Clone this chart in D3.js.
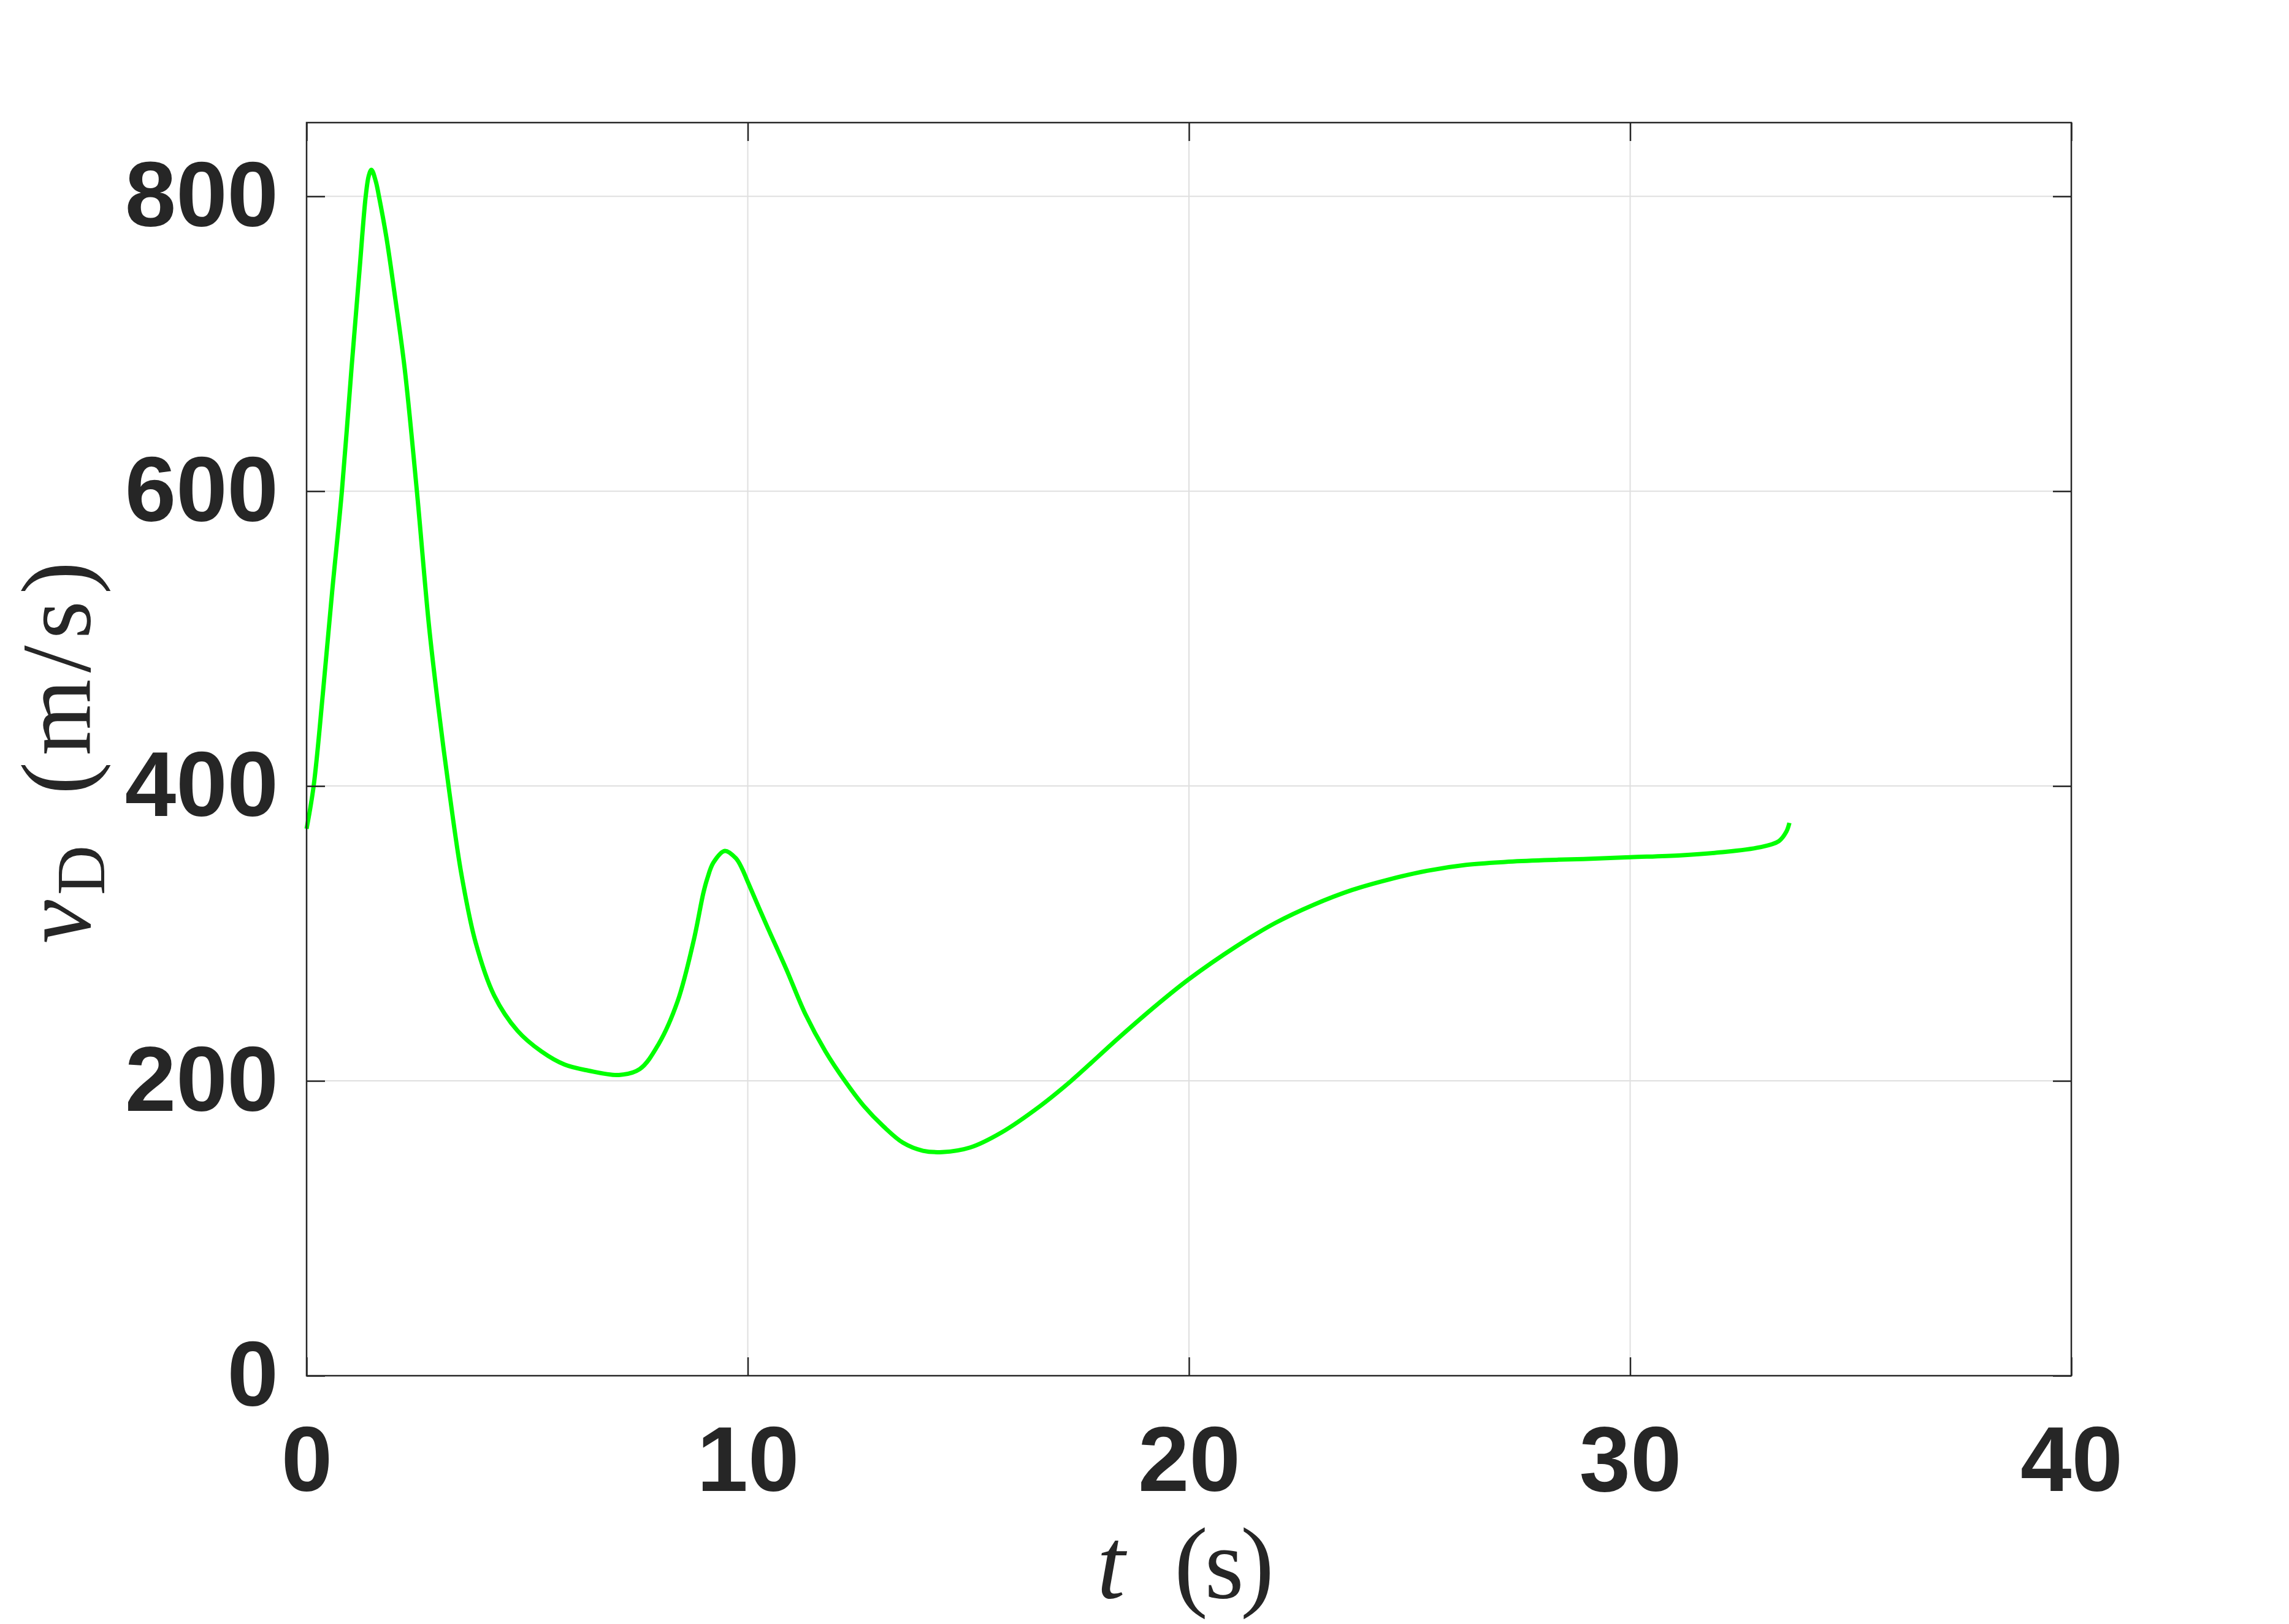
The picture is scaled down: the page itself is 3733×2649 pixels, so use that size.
<!DOCTYPE html>
<html>
<head>
<meta charset="utf-8">
<script src="https://cdn.jsdelivr.net/npm/d3@7"></script>
<style>
  html, body { margin: 0; padding: 0; background: #ffffff; }
  svg { display: block; }
</style>
</head>
<body>
<div id="chart"></div>
<script>
// ---- data ----
const timeS = [0, 0.16, 0.37, 0.58, 0.80, 1.02, 1.20, 1.34, 1.41, 1.47, 1.57, 1.64, 1.81, 1.99, 2.22,
  2.50, 2.77, 2.98, 3.24, 3.51, 3.83, 4.25, 4.78, 5.32, 5.85, 6.38, 7.08, 7.55, 7.98, 8.41, 8.78, 8.99,
  9.08, 9.22, 9.48, 9.73, 9.87, 10.0, 10.42, 10.87, 11.31, 11.76, 12.20, 12.63, 13.08, 13.52, 13.97,
  14.41, 15.04, 15.75, 16.63, 17.33, 18.40, 19.29, 20.0, 21.06, 21.95, 22.83, 23.70, 24.52, 25.40,
  26.28, 27.17, 28.05, 28.94, 30.0, 31.14, 32.04, 32.93, 33.37, 33.54, 33.61];
const vD = [371, 400, 463, 532, 600, 684, 750, 800, 814, 818, 810, 800, 772, 735, 684,
  600, 510, 455, 395, 340, 294, 258, 234, 220, 211, 207, 204, 208, 225, 254, 296, 327,
  337, 348, 356, 351, 344, 335, 306, 276, 245, 220, 200, 183, 169, 158, 152.6,
  151.7, 154.8, 165, 183, 200, 229, 252, 269, 291, 307, 319.5, 329.5, 336.5, 342.5,
  346.5, 348.5, 349.7, 350.5, 351.7, 353, 355, 358.4, 362.6, 369, 375];
const xTicks = [0, 10, 20, 30, 40];
const yTicks = [0, 200, 400, 600, 800];
const xDomain = [0, 40];
const yDomain = [0, 850];

// ---- layout ----
const W = 3733, H = 2649;
const L = 500, R = 3378, T = 200, B = 2244;
const axisColor = "#262626";
const gridColor = "#dfdfdf";
const tickFont = "'Liberation Sans', Arial, Helvetica, sans-serif";
const mathFont = "'Liberation Serif', 'Times New Roman', serif";

const svg = d3.select("#chart").append("svg")
  .attr("width", W).attr("height", H)
  .attr("viewBox", `0 0 ${W} ${H}`);
svg.append("rect").attr("width", W).attr("height", H).attr("fill", "#ffffff");

const x = d3.scaleLinear().domain(xDomain).range([L, R]);
const y = d3.scaleLinear().domain(yDomain).range([B, T]);

// grid
const grid = svg.append("g");
grid.selectAll("line.gx").data(xTicks.filter(d => d > xDomain[0] && d < xDomain[1]))
  .join("line")
  .attr("x1", d => x(d)).attr("x2", d => x(d))
  .attr("y1", T).attr("y2", B)
  .attr("stroke", gridColor).attr("stroke-width", 2);
grid.selectAll("line.gy").data(yTicks.filter(d => d > yDomain[0] && d < yDomain[1]))
  .join("line")
  .attr("y1", d => y(d)).attr("y2", d => y(d))
  .attr("x1", L).attr("x2", R)
  .attr("stroke", gridColor).attr("stroke-width", 2);

// data line
const line = d3.line()
  .x((d, i) => x(timeS[i]))
  .y(d => y(d))
  .curve(d3.curveCatmullRom.alpha(0.5));
svg.append("path")
  .datum(vD)
  .attr("d", line)
  .attr("fill", "none")
  .attr("stroke", "#00ff00")
  .attr("stroke-width", 7)
  .attr("stroke-linejoin", "round")
  .attr("stroke-linecap", "butt");

// inward ticks on all four sides
function styleTicks(g) {
  g.select(".domain").remove();
  g.selectAll(".tick line").attr("stroke", axisColor).attr("stroke-width", 2.5);
  g.selectAll(".tick text").remove();
}
svg.append("g").attr("transform", `translate(0,${B})`)
  .call(d3.axisBottom(x).tickValues(xTicks).tickSize(-30)).call(styleTicks);
svg.append("g").attr("transform", `translate(0,${T})`)
  .call(d3.axisTop(x).tickValues(xTicks).tickSize(-30)).call(styleTicks);
svg.append("g").attr("transform", `translate(${L},0)`)
  .call(d3.axisLeft(y).tickValues(yTicks).tickSize(-30)).call(styleTicks);
svg.append("g").attr("transform", `translate(${R},0)`)
  .call(d3.axisRight(y).tickValues(yTicks).tickSize(-30)).call(styleTicks);

// box
svg.append("rect")
  .attr("x", L).attr("y", T).attr("width", R - L).attr("height", B - T)
  .attr("fill", "none").attr("stroke", axisColor).attr("stroke-width", 2.5);

// tick labels
function styleLabels(g) {
  g.select(".domain").remove();
  g.selectAll(".tick line").remove();
  g.selectAll(".tick text")
    .attr("fill", axisColor)
    .attr("font-family", tickFont)
    .attr("font-weight", "bold")
    .attr("font-size", 150);
}
svg.append("g").attr("transform", `translate(0,${B})`)
  .call(d3.axisBottom(x).tickValues(xTicks).tickSize(0).tickPadding(81).tickFormat(d3.format("d")))
  .call(styleLabels);
svg.append("g").attr("transform", `translate(${L},0)`)
  .call(d3.axisLeft(y).tickValues(yTicks).tickSize(0).tickPadding(46).tickFormat(d3.format("d")))
  .call(styleLabels);

// x label: t (s)
const xl = svg.append("g").attr("transform", "translate(0,2606)")
  .attr("fill", axisColor).attr("font-family", mathFont).attr("font-size", 165);
xl.append("text").attr("x", 1789).attr("font-style", "italic").text("t");
xl.append("text").attr("x", 1915).attr("textLength", 163).attr("lengthAdjust", "spacing").text("(s)");

// y label: v_D (m/s), rotated
const yl = svg.append("g").attr("transform", "translate(146,1539) rotate(-90)")
  .attr("fill", axisColor).attr("font-family", mathFont).attr("font-size", 160);
yl.append("text").attr("x", 0).attr("font-style", "italic").text("v");
yl.append("text").attr("x", 79).attr("y", 24).attr("font-size", 112).text("D");
yl.append("text").attr("x", 243).attr("textLength", 380).attr("lengthAdjust", "spacing").text("(m/s)");
</script>
</body>
</html>
